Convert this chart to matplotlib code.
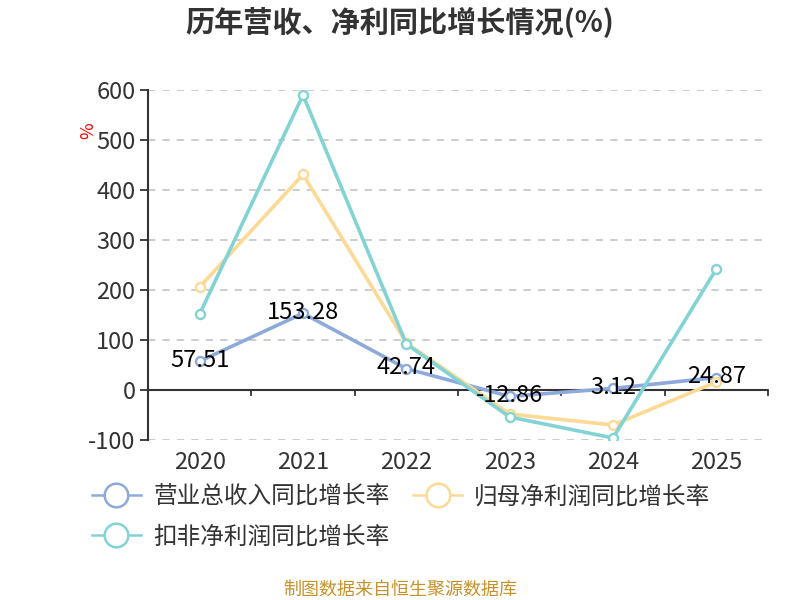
import matplotlib as mpl
mpl.use('agg')
import matplotlib.pyplot as plt
from matplotlib.lines import Line2D
import numpy as np

plt.rcParams['font.family'] = ['Noto Sans CJK SC', 'DejaVu Sans']

years = ['2020', '2021', '2022', '2023', '2024', '2025']
revenue = [57.51, 153.28, 42.74, -12.86, 3.12, 24.87]
net_profit = [206, 431, 94, -48, -70, 16]
deducted = [152, 590, 92, -54, -96, 242]
series_names = ['营业总收入同比增长率', '归母净利润同比增长率', '扣非净利润同比增长率']
colors = ['#8eaadc', '#fdd996', '#83d3d5']
yticks = [-100, 0, 100, 200, 300, 400, 500, 600]

fig = plt.figure(figsize=(8, 6), dpi=100)
ax = fig.add_axes([0.185, 0.2667, 0.775, 0.5833])

x = np.arange(len(years))
for vals, c, name in zip([revenue, net_profit, deducted], colors, series_names):
    ax.plot(x, vals, color=c, lw=2.6, marker='o', ms=6.5, mfc='white',
            mec=c, mew=1.7, label=name, zorder=3)

for xi, v in zip(x, revenue):
    ax.text(xi, v + 2, f'{v:.2f}', ha='center', va='center', fontsize=17,
            color='black', zorder=5)

ax.set_xlim(-0.5, len(years) - 0.5)
ax.set_ylim(-100, 600)
ax.set_yticks(yticks)
ax.set_yticklabels([str(t) for t in yticks], fontsize=17, color='#333333')
ax.yaxis.grid(True, ls=(0, (4, 4)), color='#c8c8c8', lw=1.3)
ax.set_axisbelow(True)
ax.tick_params(axis='y', length=6, width=1.3, color='#333333', pad=3)

ax.set_xticks(x)
ax.set_xticklabels(years, fontsize=17, color='#333333')
ax.tick_params(axis='x', length=0, pad=8)

for s in ['top', 'right', 'bottom']:
    ax.spines[s].set_visible(False)
ax.spines['left'].set_color('#333333')
ax.spines['left'].set_linewidth(1.5)

# zero axis with category boundary ticks
ax.axhline(0, color='#333333', lw=1.5, zorder=2)
for b in np.arange(0.5, len(years), 1.0):
    ax.plot([b, b], [0, -11], color='#333333', lw=1.3, zorder=2, clip_on=False)

fig.text(0.11, 0.782, '%', color='red', fontsize=13, rotation=90,
         ha='center', va='center')

fig.text(0.5, 0.962, '历年营收、净利同比增长情况(%)', fontsize=21, fontweight='bold',
         ha='center', va='center', color='#333333')

# legend handles: thin line with big hollow circle (row-major order)
order = [0, 2, 1]
handles = [Line2D([], [], color=colors[i], lw=1.8, marker='o', ms=17, mfc='white',
                  mec=colors[i], mew=1.8) for i in order]
labels = [series_names[i] for i in order]
leg = fig.legend(handles, labels, ncol=2,
                 loc='upper left', bbox_to_anchor=(0.088, 0.226), frameon=False,
                 fontsize=17, handlelength=2.1, handletextpad=0.5,
                 columnspacing=1.0, labelspacing=0.72)
for t in leg.get_texts():
    t.set_color('#333333')

fig.text(0.5, 0.017, '制图数据来自恒生聚源数据库', fontsize=13, color='#c8922a',
         ha='center', va='center')

fig.savefig('out.png', dpi=100)
